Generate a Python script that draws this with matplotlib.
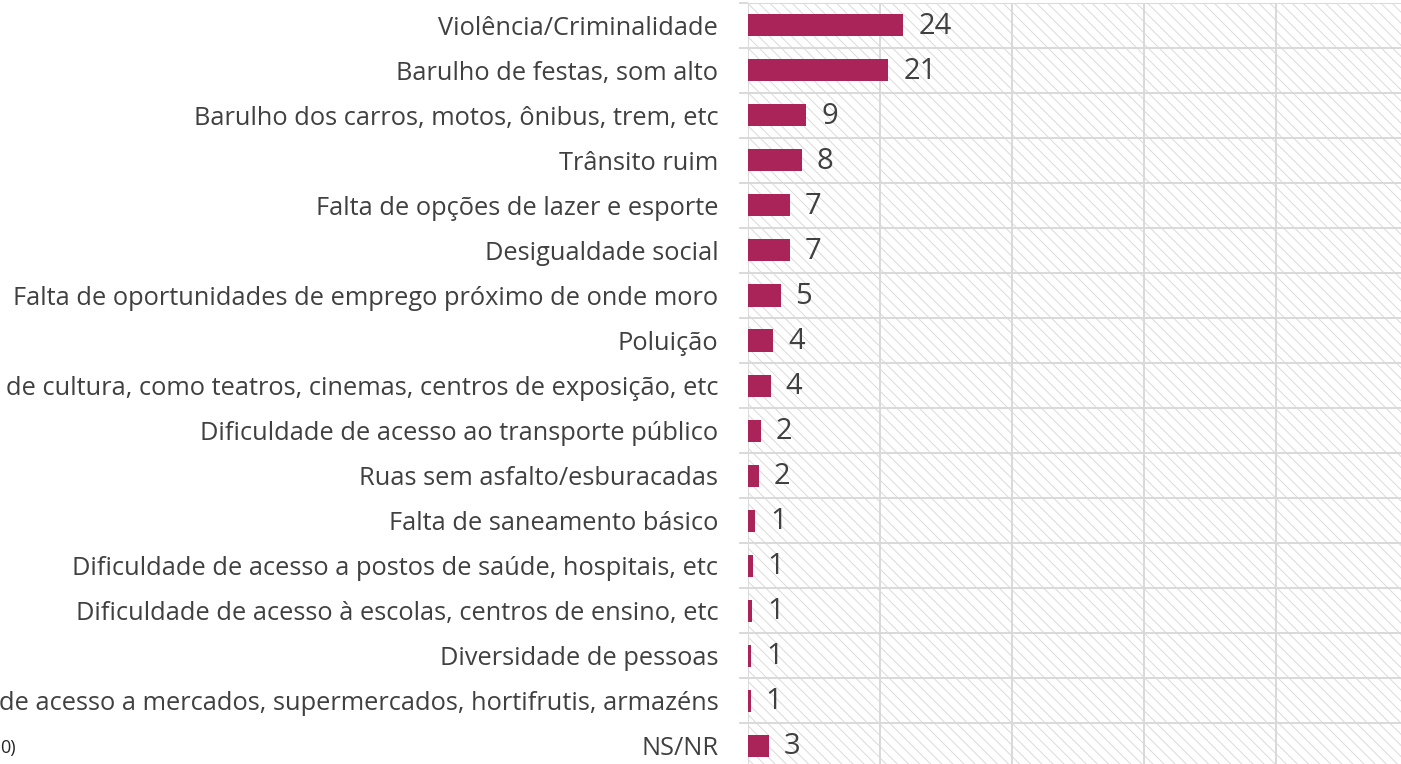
import matplotlib
matplotlib.use("Agg")
import matplotlib.pyplot as plt
from matplotlib.patches import Rectangle

categories = [
    "Violência/Criminalidade",
    "Barulho de festas, som alto",
    "Barulho dos carros, motos, ônibus, trem, etc",
    "Trânsito ruim",
    "Falta de opções de lazer e esporte",
    "Desigualdade social",
    "Falta de oportunidades de emprego próximo de onde moro",
    "Poluição",
    "de cultura, como teatros, cinemas, centros de exposição, etc",
    "Dificuldade de acesso ao transporte público",
    "Ruas sem asfalto/esburacadas",
    "Falta de saneamento básico",
    "Dificuldade de acesso a postos de saúde, hospitais, etc",
    "Dificuldade de acesso à escolas, centros de ensino, etc",
    "Diversidade de pessoas",
    "de acesso a mercados, supermercados, hortifrutis, armazéns",
    "NS/NR",
]
values = [23.6, 21.3, 8.9, 8.2, 6.4, 6.4, 5.0, 3.9, 3.5, 2.0, 1.7, 1.2, 0.8, 0.7, 0.6, 0.5, 3.2]
value_labels = ["24", "21", "9", "8", "7", "7", "5", "4", "4", "2", "2", "1", "1", "1", "1", "1", "3"]

BAR = "#AB2459"
GRID = "#D9D9D9"
TEXT = "#404040"
FONT = ["Open Sans", "DejaVu Sans"]

plt.rcParams["font.family"] = FONT
plt.rcParams["hatch.linewidth"] = 0.7

W, H = 1401, 764
fig = plt.figure(figsize=(W / 100, H / 100), dpi=100)
# plot area runs past the right and bottom edges, as in the cropped original
ax_left, ax_right = 747.5, 1408.5
ax_top, ax_bottom = 2.7, 768.4
ax = fig.add_axes([ax_left / W, (H - ax_bottom) / H,
                   (ax_right - ax_left) / W, (ax_bottom - ax_top) / H])

ax.add_patch(Rectangle((0, 0), 1, 1, transform=ax.transAxes, facecolor="white",
                       edgecolor="#DADADA", lw=0, hatch="\\\\\\", zorder=0))

y = list(range(len(categories)))
ax.barh(y, values, height=0.49, color=BAR, zorder=3)
for yi, v, lab in zip(y, values, value_labels):
    ax.annotate(lab, (v, yi), xytext=(15, -1), textcoords="offset pixels",
                ha="left", va="center", fontsize=21, color=TEXT, zorder=4)

ax.set_xlim(0, 100)
ax.set_ylim(len(categories) - 0.5, -0.5)
ax.set_xticks(range(0, 101, 20))
ax.set_yticks(y)
ax.set_yticklabels(categories, fontsize=18.3, color=TEXT)
ax.set_yticks([i - 0.5 for i in range(len(categories) + 1)], minor=True)
ax.tick_params(axis="x", length=0, labelbottom=False)
ax.tick_params(axis="y", which="major", length=0, pad=21)
ax.tick_params(axis="y", which="minor", length=6.5, width=1.4, color=GRID)
ax.grid(axis="x", which="major", color=GRID, lw=1.4, zorder=1)
ax.grid(axis="y", which="minor", color=GRID, lw=1.4, zorder=1)
ax.set_axisbelow(True)
for s in ax.spines.values():
    s.set_visible(False)

fig.text(0.0, (H - 748) / H, "0)", fontsize=13, color="#262626",
         ha="left", va="center")

fig.savefig("out.png", dpi=100)
